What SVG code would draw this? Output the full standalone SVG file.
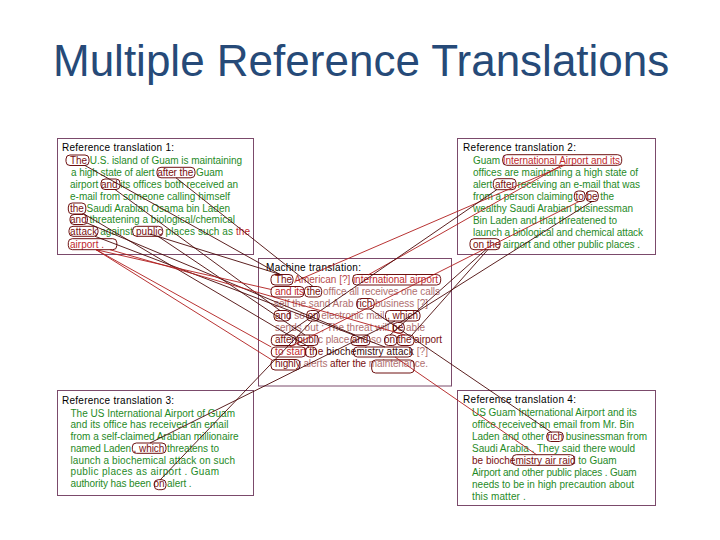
<svg xmlns="http://www.w3.org/2000/svg" width="720" height="540" viewBox="0 0 720 540">
<style>
text{font-family:"Liberation Sans",Arial,sans-serif;font-size:10px}
.ttl{font-size:44px;fill:#264a78}
.h{fill:#000}
.g{fill:#1f8a1f}
.r{fill:#c0282d}
.dr{fill:#7a1010}
.lt{fill:#b07070}
.lr{fill:#b84a4a}
.bk{fill:#3a0a0a}
.panel{fill:#fff;stroke:#7b4a6b;stroke-width:1}
.wb{fill:none;stroke:#6e1010;stroke-width:1}
.cd{stroke:#4a0808;stroke-width:0.9;fill:none}
.cr{stroke:#b01c1c;stroke-width:0.9;fill:none}
</style>
<rect width="720" height="540" fill="#fff"/>
<g id="title"><text class="ttl" x="53" y="76">Multiple Reference Translations</text></g>

<g id="ref1">
<rect class="panel" x="57.5" y="138.5" width="196" height="116"/>
<text class="h" x="62" y="151" textLength="112">Reference translation 1:</text>
<text class="g" x="70" y="163.5" textLength="172"><tspan class="dr">The</tspan> U.S. island of Guam is maintaining</text>
<text class="g" x="71" y="175.5" textLength="152">a high state of alert <tspan class="dr">after the</tspan> Guam</text>
<text class="g" x="70" y="187.5" textLength="168">airport <tspan class="dr">and</tspan> its offices both received an</text>
<text class="g" x="70" y="199.5" textLength="160">e-mail from someone calling himself</text>
<text class="g" x="70" y="211.5" textLength="160"><tspan class="dr">the</tspan> Saudi Arabian Osama bin Laden</text>
<text class="g" x="70" y="223" textLength="165"><tspan class="dr">and</tspan> threatening a biological/chemical</text>
<text class="g" x="70" y="235" textLength="180"><tspan class="dr">attack</tspan> against <tspan class="dr">public</tspan> places such as <tspan class="r">the</tspan></text>
<text class="r" x="70" y="247.5" textLength="34">airport .</text>
<rect class="wb" x="66" y="155" width="23" height="10.5" rx="4"/>
<rect class="wb" x="157" y="167.3" width="38" height="10.5" rx="4"/>
<rect class="wb" x="101" y="179" width="19" height="10.5" rx="4"/>
<rect class="wb" x="68.3" y="203" width="17.5" height="11" rx="4"/>
<rect class="wb" x="70" y="214.5" width="17.5" height="10" rx="4"/>
<rect class="wb" x="69" y="226.3" width="29" height="10" rx="4"/>
<rect class="wb" x="132.7" y="226.3" width="30" height="10" rx="4"/>
<rect class="wb" x="68.3" y="238.7" width="48.5" height="11" rx="4"/>
</g>

<g id="ref2">
<rect class="panel" x="457.5" y="138.5" width="198" height="116"/>
<text class="h" x="463" y="151" textLength="113">Reference translation 2:</text>
<text class="g" x="473" y="163.5" textLength="147">Guam <tspan class="r">International Airport and its</tspan></text>
<text class="g" x="473" y="175.5" textLength="165">offices are maintaining a high state of</text>
<text class="g" x="473" y="187.5" textLength="167">alert <tspan class="dr">after</tspan> receiving an e-mail that was</text>
<text class="g" x="473" y="199.5" textLength="141">from a person claiming <tspan class="dr">to</tspan> <tspan class="dr">be</tspan> the</text>
<text class="g" x="473" y="211.5" textLength="160">wealthy Saudi Arabian businessman</text>
<text class="g" x="473" y="223.5" textLength="144">Bin Laden and that threatened to</text>
<text class="g" x="473" y="235.5" textLength="170">launch a biological and chemical attack</text>
<text class="g" x="473" y="247.5" textLength="167"><tspan class="dr">on the</tspan> airport and other public places .</text>
<rect class="wb" x="502.7" y="154.7" width="119" height="10.6" rx="4"/>
<rect class="wb" x="493.3" y="178.7" width="22.7" height="11" rx="4"/>
<rect class="wb" x="574.3" y="191" width="10.7" height="10.5" rx="4"/>
<rect class="wb" x="586" y="191" width="12.3" height="10.5" rx="4"/>
<rect class="wb" x="470" y="238.7" width="30" height="11" rx="4"/>
</g>

<g id="machine">
<rect class="panel" x="258.5" y="258.5" width="193" height="127.5"/>
<text class="h" x="266" y="271" textLength="95">Machine translation:</text>
<text class="lr" x="275" y="283" textLength="163"><tspan class="dr">The</tspan> American [?] <tspan class="r">international airport</tspan></text>
<text class="lt" x="275" y="295" textLength="165"><tspan class="r">and its</tspan> <tspan class="dr">the</tspan> office all receives one calls</text>
<text class="lt" x="274" y="307" textLength="154">self the sand Arab <tspan class="dr">rich</tspan> business [?]</text>
<text class="lt" x="275" y="319" textLength="143"><tspan class="dr">and</tspan> so <tspan class="dr">on</tspan> electronic mail <tspan class="dr">, which</tspan></text>
<text class="lt" x="275" y="331" textLength="150">sends out ; The threat will <tspan class="dr">be</tspan> able</text>
<text class="lt" x="275" y="343" textLength="167"><tspan class="dr">after</tspan> <tspan class="dr">publ</tspan>ic place <tspan class="dr">and</tspan> so <tspan class="dr">on the airport</tspan></text>
<text class="lt" x="275" y="355" textLength="153"><tspan class="r">to start</tspan> <tspan class="dr">the</tspan> <tspan class="bk">biochemistry attack</tspan> [?]</text>
<text class="lt" x="275" y="367" textLength="153"><tspan class="dr">highly</tspan> alerts <tspan class="dr">after the</tspan> maintenance.</text>
<rect class="wb" x="271" y="274.5" width="22" height="10.5" rx="4"/>
<rect class="wb" x="352.7" y="274.5" width="88" height="10.5" rx="4"/>
<rect class="wb" x="271" y="286.5" width="33" height="10.5" rx="4"/>
<rect class="wb" x="304.5" y="286.5" width="17.2" height="10.5" rx="4"/>
<rect class="wb" x="356.7" y="298.5" width="17.5" height="10.5" rx="4"/>
<rect class="wb" x="274" y="310.5" width="16" height="10.5" rx="4"/>
<rect class="wb" x="306.7" y="310.5" width="12.5" height="10.5" rx="4"/>
<rect class="wb" x="385.5" y="310.5" width="34.5" height="10.5" rx="4"/>
<rect class="wb" x="393.3" y="322.5" width="11" height="10.5" rx="4"/>
<rect class="wb" x="271.3" y="335" width="24.5" height="10.5" rx="4"/>
<rect class="wb" x="296.7" y="335" width="21.6" height="10.5" rx="4"/>
<rect class="wb" x="351" y="335" width="19" height="10.5" rx="4"/>
<rect class="wb" x="384.5" y="335" width="12.3" height="10.5" rx="4"/>
<rect class="wb" x="397" y="335" width="17" height="10.5" rx="4"/>
<rect class="wb" x="271.3" y="347" width="34.5" height="10" rx="4"/>
<rect class="wb" x="305.5" y="347" width="11" height="10" rx="4"/>
<rect class="wb" x="353.5" y="347" width="58.5" height="10" rx="4"/>
<rect class="wb" x="271" y="359.5" width="29" height="10.5" rx="4"/>
<rect class="wb" x="371.7" y="360" width="42.5" height="13" rx="4"/>
</g>

<g id="ref3">
<rect class="panel" x="57.5" y="390.5" width="196" height="105"/>
<text class="h" x="62" y="404" textLength="112">Reference translation 3:</text>
<text class="g" x="70.5" y="416.5" textLength="164.5">The US International Airport of Guam</text>
<text class="g" x="70.5" y="428.3" textLength="158">and its office has received an email</text>
<text class="g" x="70.5" y="440" textLength="168">from a self-claimed Arabian millionaire</text>
<text class="g" x="70.5" y="451.7" textLength="148.5">named Laden <tspan class="dr">, which</tspan> threatens to</text>
<text class="g" x="70.5" y="463.5" textLength="164.5">launch a biochemical attack on such</text>
<text class="g" x="70.5" y="475.2" textLength="148.5">public places as airport . Guam</text>
<text class="g" x="70.5" y="487" textLength="121">authority has been <tspan class="dr">on</tspan> alert .</text>
<rect class="wb" x="132.3" y="443" width="33.7" height="10.3" rx="4"/>
<rect class="wb" x="154.3" y="479.7" width="11.7" height="10" rx="4"/>
</g>

<g id="ref4">
<rect class="panel" x="457.5" y="390.5" width="198" height="115"/>
<text class="h" x="463" y="402.5" textLength="113">Reference translation 4:</text>
<text class="g" x="472" y="415.5" textLength="164.7">US Guam International Airport and its</text>
<text class="g" x="472" y="427.5" textLength="162">office received an email from Mr. Bin</text>
<text class="g" x="472" y="439.5" textLength="175">Laden and other <tspan class="dr">rich</tspan> businessman from</text>
<text class="g" x="472" y="451.5" textLength="163">Saudi Arabia . They said there would</text>
<text class="g" x="472" y="463.5" textLength="144.7"><tspan class="dr">be biochemistry air raid</tspan> to Guam</text>
<text class="g" x="472" y="475.5" textLength="164.7">Airport and other public places . Guam</text>
<text class="g" x="472" y="487.5" textLength="162">needs to be in high precaution about</text>
<text class="g" x="472" y="499.5" textLength="53.7">this matter .</text>
<rect class="wb" x="546.7" y="432" width="16.6" height="9.5" rx="4"/>
<rect class="wb" x="512.3" y="454.7" width="62" height="10.6" rx="4"/>
</g>

<g id="connectors">
<line class="cr" x1="565" y1="165" x2="296" y2="281"/>
<line class="cr" x1="562" y1="165" x2="368" y2="275"/>
<line class="cd" x1="497" y1="189.5" x2="285" y2="335"/>
<line class="cr" x1="579" y1="201.5" x2="290" y2="347"/>
<line class="cd" x1="592" y1="201.5" x2="400" y2="322.5"/>
<line class="cd" x1="486" y1="249.5" x2="390" y2="335"/>
<line class="cd" x1="488" y1="249.5" x2="412" y2="335"/>
<line class="cd" x1="370" y1="309" x2="551" y2="432"/>
<line class="cr" x1="395" y1="357" x2="537" y2="455"/>
<line class="cd" x1="395" y1="321" x2="150" y2="443"/>
<line class="cd" x1="312" y1="321" x2="160" y2="480"/>
<line class="cd" x1="85" y1="165.5" x2="280" y2="274.5"/>
<line class="cd" x1="176" y1="177.8" x2="313" y2="286.5"/>
<line class="cd" x1="115" y1="189.5" x2="280" y2="310.5"/>
<line class="cd" x1="84" y1="214" x2="309" y2="347"/>
<line class="cd" x1="87" y1="223" x2="355" y2="335"/>
<line class="cd" x1="95" y1="236.3" x2="385" y2="347"/>
<line class="cd" x1="158" y1="236.3" x2="305" y2="335"/>
<line class="cd" x1="150" y1="234" x2="282" y2="275"/>
<line class="cr" x1="96" y1="249.7" x2="271.3" y2="289.5"/>
<line class="cr" x1="96" y1="249.7" x2="271.3" y2="347"/>
<line class="cr" x1="96" y1="249.7" x2="272" y2="360"/>
<line class="cr" x1="110" y1="249.7" x2="405" y2="335"/>
</g>
</svg>
